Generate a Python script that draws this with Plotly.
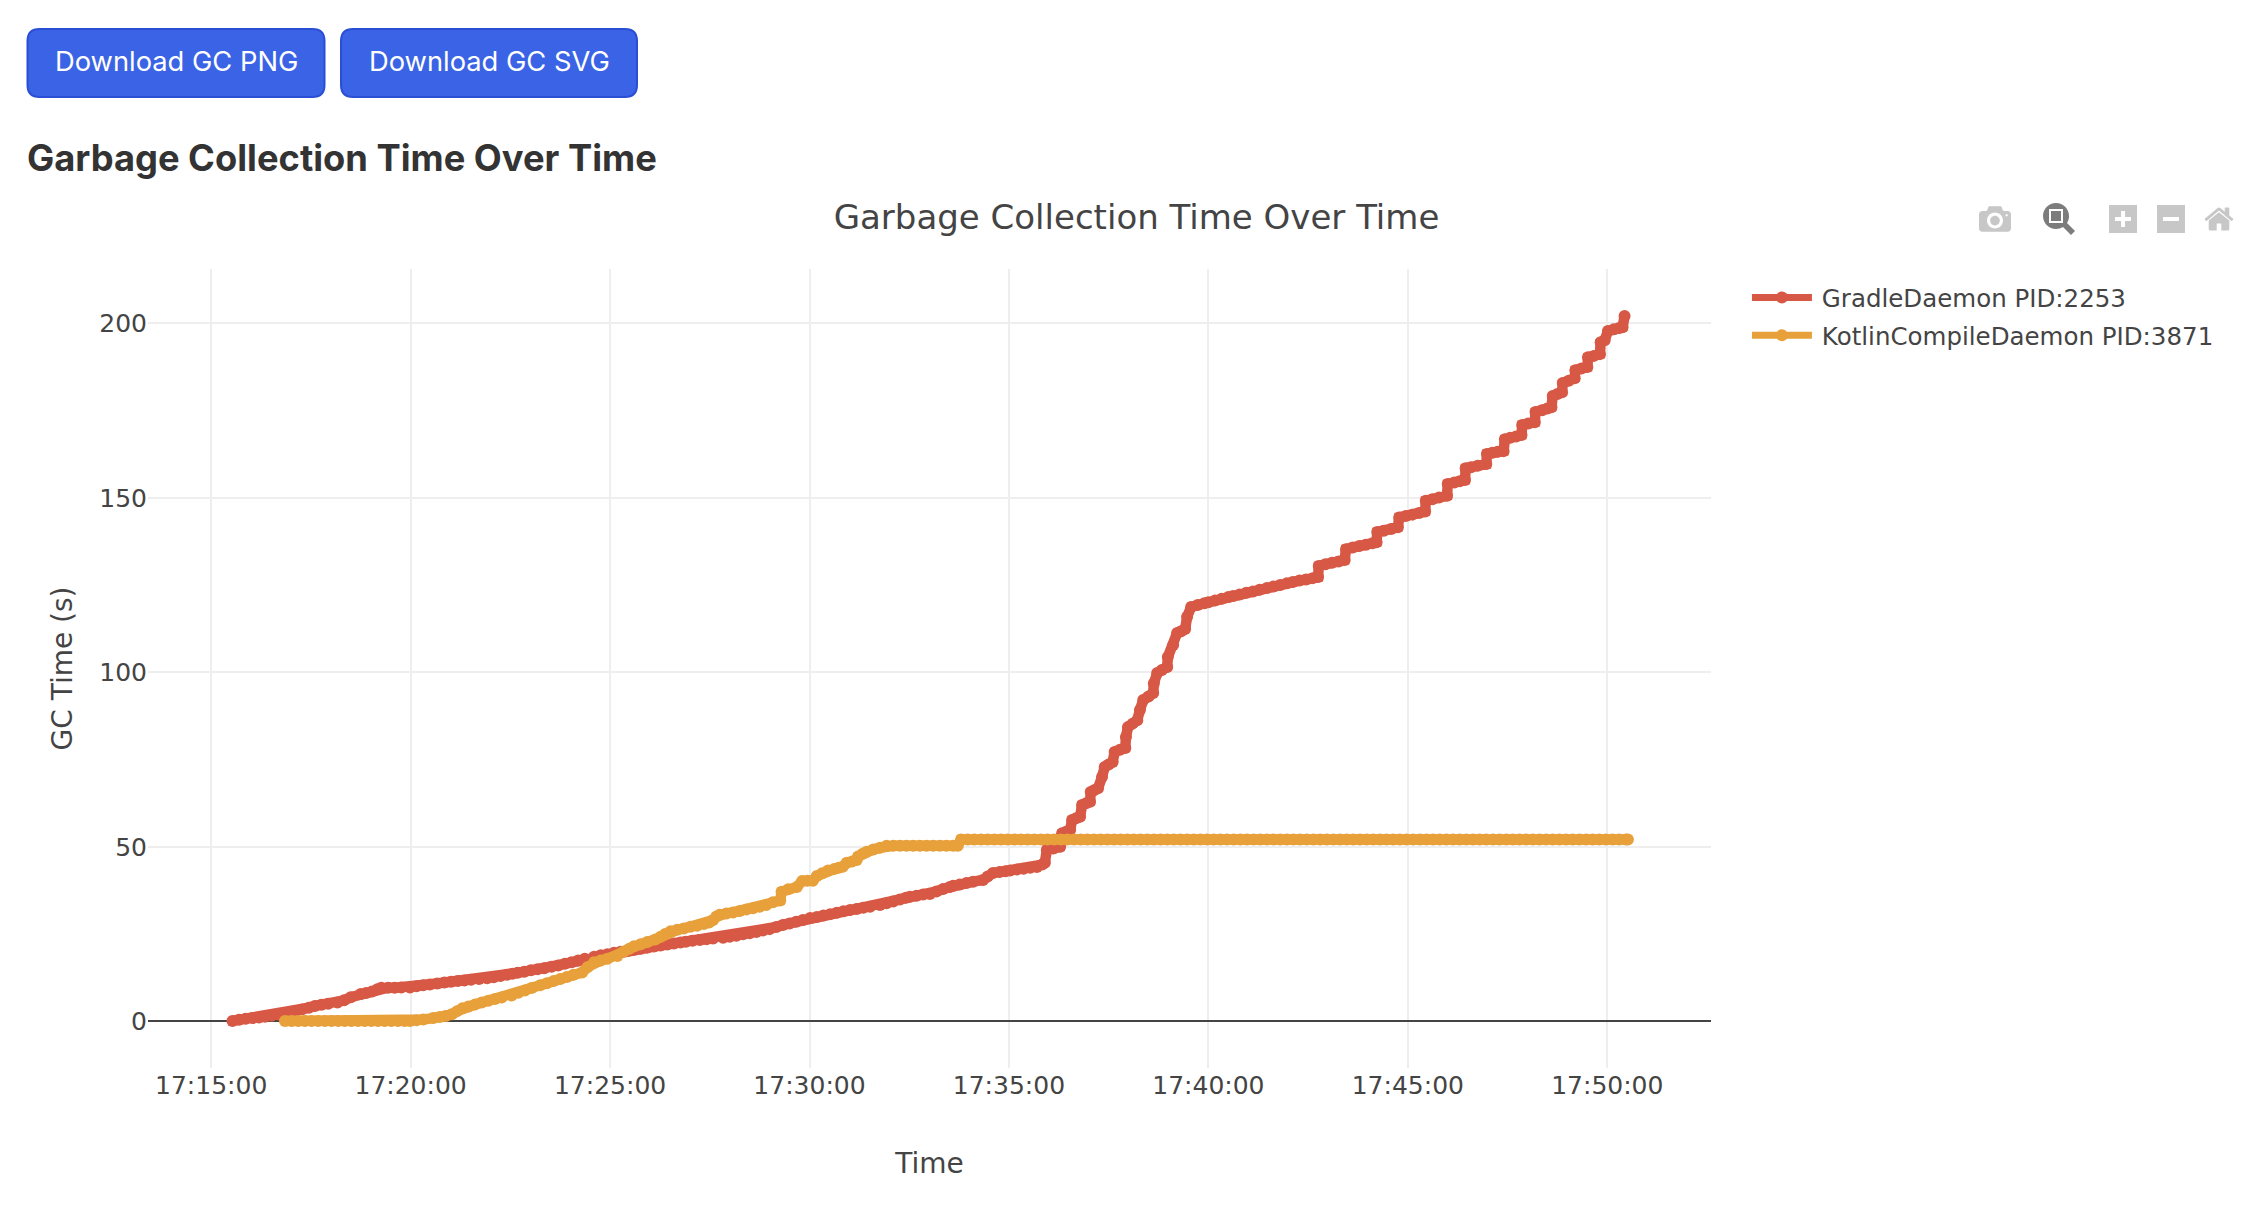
import pandas as pd
import plotly.graph_objects as go

# seconds after 17:15:00
gradle_sec = [32, 42, 52, 62, 72, 81, 91, 101, 111, 120, 127, 137, 147, 156, 166, 176, 190, 200, 210, 225, 233, 242, 250, 256,
              266, 276, 286, 299, 309, 319, 329, 340, 351, 361, 371, 381, 391, 403, 415, 425, 435, 445, 453, 461, 471, 481,
              491, 501, 512, 522, 532, 542, 552, 562, 576, 586, 596, 606, 616, 626, 636, 646, 656, 666, 676, 686, 696, 706,
              714, 724, 735, 745, 755, 770, 780, 790, 800, 810, 820, 830, 840, 850, 860, 870, 880, 890, 901, 911, 921, 931,
              941, 951, 961, 971, 981, 991, 1006, 1016, 1026, 1036, 1045, 1051, 1061, 1071, 1081, 1091, 1101, 1111, 1116,
              1126, 1136, 1146, 1161, 1168, 1176, 1186, 1195, 1202, 1212, 1222, 1232, 1242, 1250, 1254, 1257, 1267, 1277,
              1280, 1286, 1292, 1295, 1301, 1307, 1310, 1316, 1322, 1323, 1328, 1334, 1340, 1344, 1350, 1356, 1359, 1367,
              1375, 1376, 1379, 1386, 1393, 1397, 1402, 1410, 1417, 1418, 1423, 1430, 1438, 1439, 1447, 1453, 1459, 1465,
              1468, 1474, 1484, 1494, 1500, 1510, 1520, 1530, 1537, 1547, 1557, 1567, 1577, 1588, 1598, 1608, 1618, 1627,
              1637, 1647, 1657, 1665, 1666, 1676, 1686, 1696, 1705, 1707, 1717, 1727, 1737, 1747, 1753, 1754, 1764, 1775,
              1785, 1787, 1797, 1807, 1817, 1826, 1827, 1837, 1847, 1859, 1860, 1870, 1878, 1886, 1887, 1895, 1905, 1918,
              1919, 1927, 1935, 1944, 1946, 1954, 1963, 1971, 1972, 1981, 1991, 1992, 2002, 2010, 2016, 2018, 2025, 2032,
              2033, 2042, 2051, 2052, 2061, 2070, 2071, 2080, 2089, 2090, 2096, 2101, 2110, 2118, 2123, 2126]
gradle_gc = [0.1, 0.4, 0.7, 0.9, 1.1, 1.3, 1.6, 1.9, 2.2, 2.5, 2.8, 3.4, 3.9, 4.4, 4.7, 5.0, 5.4, 6.0, 6.9, 7.8, 8.1, 8.5, 9.2, 9.6,
             9.6, 9.6, 9.7, 9.7, 10.0, 10.3, 10.5, 10.8, 11.1, 11.3, 11.5, 11.7, 11.9, 12.1, 12.3, 12.6, 13.0, 13.3, 13.6, 13.9, 14.2, 14.6,
             14.9, 15.2, 15.6, 16.0, 16.5, 16.9, 17.4, 17.9, 18.5, 18.9, 19.2, 19.6, 19.9, 20.2, 20.5, 20.8, 21.1, 21.4, 21.7, 22.0, 22.3, 22.6,
             22.8, 23.1, 23.3, 23.5, 23.7, 23.9, 24.2, 24.5, 24.9, 25.2, 25.6, 26.0, 26.4, 27.0, 27.6, 28.0, 28.5, 29.0, 29.6, 29.9, 30.3, 30.7,
             31.1, 31.5, 31.9, 32.2, 32.5, 32.8, 33.3, 33.8, 34.3, 34.9, 35.4, 35.7, 36.0, 36.3, 36.5, 37.2, 37.9, 38.5, 38.8,
             39.2, 39.6, 40.0, 40.5, 41.5, 42.5, 42.8, 43.0, 43.2, 43.5, 43.7, 44.0, 44.2, 44.9, 45.4, 49.1, 49.5, 50.0,
             53.9, 54.3, 54.8, 57.7, 58.2, 58.6, 62.0, 62.5, 62.9, 65.7, 66.2, 66.8, 70.0, 72.9, 73.6, 74.3, 77.2, 77.8,
             78.3, 81.5, 84.3, 85.3, 86.3, 89.2, 92.1, 93.1, 94.1, 96.9, 99.8, 100.7, 101.5, 104.4, 107.8, 111.3, 111.8, 112.4,
             115.9, 118.7, 119.3, 119.8, 120.1, 120.6, 121.1, 121.6, 121.9, 122.3, 122.8, 123.2, 123.7, 124.2, 124.6, 125.0, 125.5, 125.9,
             126.3, 126.6, 127.0, 127.3, 130.5, 131.0, 131.4, 131.8, 132.2, 135.3, 135.8, 136.2, 136.6, 137.0, 137.3, 140.2, 140.6, 141.1,
             141.6, 144.4, 144.8, 145.2, 145.7, 146.1, 149.2, 149.6, 150.1, 150.6, 154.0, 154.4, 154.8, 155.1, 158.5, 158.8, 159.2, 159.7,
             162.6, 162.9, 163.2, 163.4, 166.8, 167.2, 167.6, 168.0, 170.9, 171.3, 171.7, 174.6, 175.1, 175.6, 176.0, 179.2, 179.8, 180.3,
             182.9, 183.6, 184.3, 186.6, 187.1, 187.5, 190.3, 190.7, 191.2, 194.6, 195.2, 197.8, 198.3, 198.7, 198.9, 202.1]

kotlin_sec = [111, 121, 131, 141, 151, 161, 171, 181, 191, 201, 211, 221, 231, 241, 251, 261, 271, 281, 291, 299, 309, 319, 334,
              344, 353, 362, 370, 378, 387, 397, 407, 417, 427, 437, 452, 462, 472, 482, 495, 505, 515, 525, 535, 545, 558,
              566, 576, 586, 596, 611, 621, 629, 636, 646, 656, 668, 676, 683, 691, 701, 711, 721, 731, 741, 749, 755, 760,
              765, 775, 785, 795, 805, 815, 825, 835, 845, 856, 858, 868, 881, 889, 897, 905, 911, 919, 928, 937, 944, 950,
              956, 964, 971, 973, 980, 986, 996, 1006, 1016, 1026, 1036, 1046, 1056, 1066, 1076, 1086, 1096, 1106, 1116, 1123,
              1128, 1138, 1148, 1158, 1168, 1178, 1188, 1198, 1208, 1218, 1228, 1238, 1248, 1258, 1268, 1278, 1288, 1298,
              1308, 1318, 1328, 1338, 1348, 1358, 1368, 1378, 1388, 1398, 1408, 1418, 1428, 1438, 1448, 1458, 1468, 1478,
              1488, 1498, 1508, 1518, 1528, 1538, 1548, 1558, 1568, 1578, 1588, 1598, 1608, 1618, 1628, 1638, 1648, 1658,
              1668, 1678, 1688, 1698, 1708, 1718, 1728, 1738, 1748, 1758, 1768, 1778, 1788, 1798, 1808, 1818, 1828, 1838,
              1848, 1858, 1868, 1878, 1888, 1898, 1908, 1918, 1928, 1938, 1948, 1958, 1968, 1978, 1988, 1998, 2008, 2018,
              2028, 2038, 2048, 2058, 2068, 2078, 2088, 2098, 2108, 2118, 2128, 2131]
kotlin_gc = [0.1, 0.1, 0.1, 0.1, 0.1, 0.1, 0.1, 0.1, 0.1, 0.1, 0.1, 0.1, 0.1, 0.1, 0.1, 0.1, 0.1, 0.1, 0.1, 0.1, 0.3, 0.5, 0.9,
             1.2, 1.5, 2.0, 2.9, 3.7, 4.2, 4.8, 5.4, 5.9, 6.4, 6.8, 7.4, 8.2, 8.8, 9.5, 10.3, 10.9, 11.5, 12.1, 12.7, 13.3, 14.0,
             15.5, 16.9, 17.4, 17.9, 18.7, 20.0, 20.8, 21.5, 22.1, 22.7, 23.4, 24.2, 25.0, 25.8, 26.2, 26.6, 27.1, 27.4, 27.9, 28.3, 29.0, 30.0,
             30.5, 30.9, 31.2, 31.6, 32.0, 32.4, 32.8, 33.3, 34.1, 34.6, 37.1, 37.8, 38.5, 40.2, 40.3, 40.3, 41.6, 42.4, 43.2, 43.6, 44.0, 44.3,
             45.4, 45.8, 46.2, 47.2, 48.0, 48.6, 49.2, 49.7, 50.3, 50.3, 50.3, 50.3, 50.3, 50.3, 50.3, 50.3, 50.3, 50.3, 50.3, 50.3,
             52.1, 52.1, 52.1, 52.1, 52.1, 52.1, 52.1, 52.1, 52.1, 52.1, 52.1, 52.1, 52.1, 52.1, 52.1, 52.1, 52.1, 52.1,
             52.1, 52.1, 52.1, 52.1, 52.1, 52.1, 52.1, 52.1, 52.1, 52.1, 52.1, 52.1, 52.1, 52.1, 52.1, 52.1, 52.1, 52.1,
             52.1, 52.1, 52.1, 52.1, 52.1, 52.1, 52.1, 52.1, 52.1, 52.1, 52.1, 52.1, 52.1, 52.1, 52.1, 52.1, 52.1, 52.1,
             52.1, 52.1, 52.1, 52.1, 52.1, 52.1, 52.1, 52.1, 52.1, 52.1, 52.1, 52.1, 52.1, 52.1, 52.1, 52.1, 52.1, 52.1,
             52.1, 52.1, 52.1, 52.1, 52.1, 52.1, 52.1, 52.1, 52.1, 52.1, 52.1, 52.1, 52.1, 52.1, 52.1, 52.1, 52.1, 52.1,
             52.1, 52.1, 52.1, 52.1, 52.1, 52.1, 52.1, 52.1, 52.1, 52.1, 52.1, 52.1]

base = pd.Timestamp("2024-01-01 17:15:00")
tick_times = ["17:15:00", "17:20:00", "17:25:00", "17:30:00", "17:35:00", "17:40:00", "17:45:00", "17:50:00"]
button_labels = ["Download GC PNG", "Download GC SVG"]
series_names = ["GradleDaemon PID:2253", "KotlinCompileDaemon PID:3871"]
series_colors = ["#d85846", "#e8a03a"]

W, H = 2264, 1214
L, R, T, B = 148, 1711, 269, 1068


# page pixels to paper coordinates, the buttons and heading sit outside the plot area
def px(x):
    return (x - L) / (R - L)


def py(y):
    return (B - y) / (B - T)


def rounded_box(x0, y0, x1, y1, r):
    return (f"M {px(x0 + r)} {py(y0)} L {px(x1 - r)} {py(y0)} Q {px(x1)} {py(y0)} {px(x1)} {py(y0 + r)} "
            f"L {px(x1)} {py(y1 - r)} Q {px(x1)} {py(y1)} {px(x1 - r)} {py(y1)} "
            f"L {px(x0 + r)} {py(y1)} Q {px(x0)} {py(y1)} {px(x0)} {py(y1 - r)} "
            f"L {px(x0)} {py(y0 + r)} Q {px(x0)} {py(y0)} {px(x0 + r)} {py(y0)} Z")


fig = go.Figure()
all_sec = [gradle_sec, kotlin_sec]
all_gc = [gradle_gc, kotlin_gc]
for sec, gc, color in zip(all_sec, all_gc, series_colors):
    # sampled sparser than the original, so the line is thicker to close the gaps between markers
    fig.add_trace(go.Scatter(x=base + pd.to_timedelta(sec, unit="s"), y=gc, mode="lines+markers", showlegend=False,
                             line=dict(color=color, width=10.5), marker=dict(color=color, size=12)))
for name, color in zip(series_names, series_colors):
    # legend only, keeps the thinner key line; separate groups so tracegroupgap sets the row spacing
    fig.add_trace(go.Scatter(x=[None], y=[None], mode="lines+markers", name="\u2009" + name, legendgroup=name,
                             line=dict(color=color, width=7), marker=dict(color=color, size=12)))

boxes = [(27.5, 29, 324.5, 97), (341, 29, 637, 97)]
for (x0, y0, x1, y1), label in zip(boxes, button_labels):
    fig.add_shape(type="path", path=rounded_box(x0, y0, x1, y1, 12), xref="paper", yref="paper",
                  fillcolor="#3a63e6", line=dict(color="#2a4fd4", width=2))
    fig.add_annotation(x=px((x0 + x1) / 2), y=py(62), xref="paper", yref="paper", xanchor="center", yanchor="middle",
                       text=label, showarrow=False, font=dict(family="Inter", size=27.3, color="#ffffff"))

fig.add_annotation(x=px(25), y=py(158), xref="paper", yref="paper", xanchor="left", yanchor="middle", showarrow=False,
                   text="<b>Garbage Collection Time Over Time</b>", font=dict(family="Inter", size=36.3, color="#333333"))

tick_vals = [base + pd.Timedelta(minutes=5 * i) for i in range(len(tick_times))]
fig.update_layout(
    width=W, height=H,
    margin=dict(l=L, r=W - R, t=T, b=H - B),
    paper_bgcolor="white", plot_bgcolor="white",
    font=dict(family="DejaVu Sans, Verdana, sans-serif", size=25, color="#444444"),
    title=dict(text="Garbage Collection Time Over Time", x=0.502, xanchor="center", y=0.821, yanchor="middle",
               font=dict(size=34)),
    xaxis=dict(title=dict(text="Time", font=dict(size=28), standoff=54), tickvals=tick_vals, ticktext=tick_times,
               range=[base - pd.Timedelta(seconds=95), base + pd.Timedelta(seconds=2256)],
               showgrid=True, gridcolor="#eeeeee", gridwidth=2, zeroline=False, showline=False, ticks=""),
    yaxis=dict(title=dict(text="GC Time (s)", font=dict(size=28), standoff=18), range=[-13.4, 215.6],
               tickvals=[0, 50, 100, 150, 200], showgrid=True, gridcolor="#eeeeee", gridwidth=2,
               zeroline=True, zerolinecolor="#444444", zerolinewidth=2, showline=False, ticks=""),
    legend=dict(x=1.023, y=0.9925, xanchor="left", yanchor="top", itemwidth=60, font=dict(size=24.5),
                bgcolor="rgba(0,0,0,0)", tracegroupgap=3),
    dragmode="zoom",
)

config = dict(displayModeBar=True, displaylogo=False,
              modeBarButtons=[["toImage"], ["zoom2d"], ["zoomIn2d", "zoomOut2d", "resetScale2d"]])

# modebar sits lower in the page than plotly's default corner, and the page has no body margin
page_css = """
var s = document.createElement('style');
s.textContent = 'html,body{margin:0;padding:0;overflow:hidden}'
  + '.js-plotly-plot .plotly .modebar{top:197px!important;right:21.5px!important;transform:scale(2.0);transform-origin:top right}';
document.head.appendChild(s);
"""
fig.write_html("out.html", config=config, post_script=page_css)
